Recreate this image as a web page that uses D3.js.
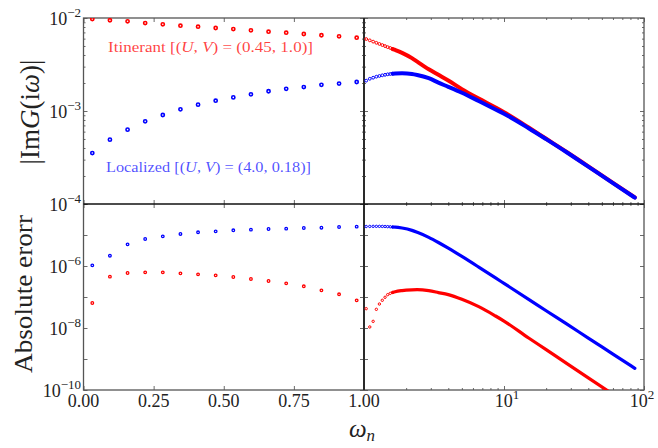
<!DOCTYPE html>
<html>
<head>
<meta charset="utf-8">
<script src="https://cdn.jsdelivr.net/npm/d3@7"></script>
<style>
  body { margin: 0; background: #fff; }
  text { font-family: "Liberation Serif", "DejaVu Serif", serif; fill: #222; }
</style>
</head>
<body>
<div id="chart"></div>
<script>
// Matsubara frequencies shown as separate markers (beta = 100)
const wLeft = [0.0314, 0.0942, 0.1571, 0.2199, 0.2827, 0.3456, 0.4084, 0.4712, 0.5341, 0.5969, 0.6597, 0.7226, 0.7854, 0.8482, 0.9111, 0.9739];
const wStart = [1.0367, 1.0996, 1.1624, 1.2252, 1.2881, 1.3509, 1.4137, 1.4765, 1.5394, 1.6022];
const wTail = [1.67, 1.87, 2.2, 2.4, 2.9, 3.4, 4.0, 5.0, 6.6, 8.7, 10, 15, 20, 28, 40, 60, 86];

// |Im G(iw)|, itinerant (red)
const itinG_left = [9.75e-3, 9.45e-3, 9.21e-3, 8.83e-3, 8.56e-3, 8.26e-3, 8.06e-3, 7.81e-3, 7.61e-3, 7.37e-3, 7.12e-3, 6.95e-3, 6.73e-3, 6.52e-3, 6.35e-3, 6.14e-3];
const itinG_start = [5.94e-3, 5.75e-3, 5.57e-3, 5.41e-3, 5.26e-3, 5.12e-3, 4.99e-3, 4.86e-3, 4.76e-3, 4.64e-3];
const itinG_tail = [4.53e-3, 4.22e-3, 3.70e-3, 3.39e-3, 2.81e-3, 2.45e-3, 2.13e-3, 1.72e-3, 1.36e-3, 1.09e-3, 9.7e-4, 6.65e-4, 5.03e-4, 3.63e-4, 2.54e-4, 1.69e-4, 1.18e-4];

// |Im G(iw)|, localized (blue)
const locG_left = [3.53e-4, 4.92e-4, 6.30e-4, 7.74e-4, 9.06e-4, 1.042e-3, 1.17e-3, 1.29e-3, 1.40e-3, 1.51e-3, 1.63e-3, 1.73e-3, 1.81e-3, 1.91e-3, 1.97e-3, 2.05e-3];
const locG_start = [2.12e-3, 2.22e-3, 2.28e-3, 2.34e-3, 2.38e-3, 2.42e-3, 2.45e-3, 2.48e-3, 2.50e-3, 2.52e-3];
const locG_tail = [2.53e-3, 2.54e-3, 2.50e-3, 2.44e-3, 2.25e-3, 2.02e-3, 1.82e-3, 1.57e-3, 1.28e-3, 1.04e-3, 9.35e-4, 6.53e-4, 4.98e-4, 3.6e-4, 2.52e-4, 1.68e-4, 1.17e-4];

// absolute error, itinerant (red)
const itinErr_left = [6.4e-8, 4.53e-7, 5.94e-7, 6.25e-7, 6.25e-7, 5.79e-7, 5.38e-7, 5.0e-7, 4.41e-7, 3.81e-7, 3.28e-7, 2.76e-7, 2.21e-7, 1.64e-7, 1.22e-7, 7.8e-8];
const itinErr_start = [4.2e-8, 1.08e-8, 1.64e-8, 4.0e-8, 5.94e-8, 7.83e-8, 9.8e-8, 1.19e-7, 1.31e-7, 1.40e-7];
const itinErr_tail = [1.48e-7, 1.61e-7, 1.70e-7, 1.72e-7, 1.60e-7, 1.39e-7, 1.19e-7, 8.4e-8, 4.87e-8, 2.44e-8, 1.68e-8, 4.76e-9, 2.0e-9, 7.2e-10, 2.46e-10, 7.3e-11, 2.5e-11];

// absolute error, localized (blue)
const locErr_left = [1.05e-6, 2.15e-6, 5.0e-6, 7.43e-6, 9.05e-6, 1.08e-5, 1.22e-5, 1.31e-5, 1.42e-5, 1.49e-5, 1.56e-5, 1.60e-5, 1.68e-5, 1.72e-5, 1.81e-5, 1.86e-5];
const locErr_start = [1.88e-5, 1.89e-5, 1.90e-5, 1.90e-5, 1.90e-5, 1.89e-5, 1.88e-5, 1.86e-5, 1.84e-5, 1.81e-5];
const locErr_tail = [1.8e-5, 1.68e-5, 1.41e-5, 1.22e-5, 8.4e-6, 5.73e-6, 3.75e-6, 2.03e-6, 9.2e-7, 4.13e-7, 2.75e-7, 8.4e-8, 3.6e-8, 1.35e-8, 4.73e-9, 1.44e-9, 5.0e-10];

const xTicksLeft = [0, 0.25, 0.5, 0.75, 1.0];
const yTicksTop = [-2, -3, -4];
const yTicksBot = [-6, -8, -10];

const width = 658, height = 448;
const L = 83.5, M = 364, R = 644, T = 18, C = 204, B = 390;

const xLeft = d3.scaleLinear().domain([0, 1]).range([L, M]);
const xRight = d3.scaleLog().domain([1, 100]).range([M, R]);
const yTop = d3.scaleLog().domain([1e-4, 1e-2]).range([C, T]);
const yBot = d3.scaleLog().domain([1e-10, 1e-4]).range([B, C]);

const svg = d3.select('#chart').append('svg')
    .attr('width', width)
    .attr('height', height);

const defs = svg.append('defs');
function clip(id, x0, y0, x1, y1) {
    defs.append('clipPath').attr('id', id)
        .append('rect').attr('x', x0).attr('y', y0).attr('width', x1 - x0).attr('height', y1 - y0);
}
clip('cTL', L, T, M, C); clip('cTR', M, T, R, C);
clip('cBL', L, C, M, B); clip('cBR', M, C, R, B);

// inward ticks on all four sides of a panel
function ticks(x, y, x0, x1, y0, y1, xMaj, xMin, yMaj, yMin) {
    const g = svg.append('g').attr('class', 'ticks');
    const put = (axis, tr) => g.append('g').attr('transform', tr).call(axis)
        .call(s => s.select('.domain').remove())
        .call(s => s.selectAll('line').attr('stroke', '#444').attr('stroke-width', 0.8));
    [[xMaj, -4], [xMin, -2]].forEach(([v, s]) => {
        put(d3.axisBottom(x).tickValues(v).tickSize(s).tickFormat(''), `translate(0,${y1})`);
        put(d3.axisTop(x).tickValues(v).tickSize(s).tickFormat(''), `translate(0,${y0})`);
    });
    [[yMaj, -4], [yMin, -2]].forEach(([v, s]) => {
        put(d3.axisLeft(y).tickValues(v).tickSize(s).tickFormat(''), `translate(${x0},0)`);
        put(d3.axisRight(y).tickValues(v).tickSize(s).tickFormat(''), `translate(${x1},0)`);
    });
}
const minors = (lo, hi) => d3.range(lo, hi).flatMap(e => d3.range(2, 10).map(m => m * Math.pow(10, e)));
const decades = (lo, hi) => d3.range(lo, hi + 1).map(e => Math.pow(10, e));

ticks(xLeft, yTop, L, M, T, C, xTicksLeft, [], decades(-4, -2), minors(-4, -2));
ticks(xRight, yTop, M, R, T, C, decades(0, 2), minors(0, 2), decades(-4, -2), minors(-4, -2));
ticks(xLeft, yBot, L, M, C, B, xTicksLeft, [], decades(-10, -4), []);
ticks(xRight, yBot, M, R, C, B, decades(0, 2), minors(0, 2), decades(-10, -4), []);

// panels frame
svg.append('rect').attr('x', L).attr('y', T).attr('width', R - L).attr('height', B - T)
    .attr('fill', 'none').attr('stroke', '#555').attr('stroke-width', 1.3);
svg.append('line').attr('x1', M).attr('x2', M).attr('y1', T).attr('y2', B)
    .attr('stroke', '#2a2a2a').attr('stroke-width', 2);
svg.append('line').attr('x1', L).attr('x2', R).attr('y1', C).attr('y2', C)
    .attr('stroke', '#111').attr('stroke-width', 1.5);

// data
function points(clipId, x, y, xs, ys, color, r, sw) {
    svg.append('g').attr('clip-path', `url(#${clipId})`)
        .selectAll('circle')
        .data(xs.map((w, i) => [w, ys[i]]))
        .enter().append('circle')
        .attr('cx', d => x(d[0]))
        .attr('cy', d => y(d[1]))
        .attr('r', r)
        .attr('fill', 'none')
        .attr('stroke', color)
        .attr('stroke-width', sw);
}
function band(clipId, x, y, xs, ys, color, w) {
    const line = d3.line().x(d => x(d[0])).y(d => y(d[1])).curve(d3.curveMonotoneX);
    svg.append('path').attr('clip-path', `url(#${clipId})`)
        .attr('d', line(xs.map((v, i) => [v, ys[i]])))
        .attr('fill', 'none')
        .attr('stroke', color)
        .attr('stroke-width', w)
        .attr('stroke-linecap', 'round');
}

const red = '#ff0000', blue = '#0000ff';

points('cTL', xLeft, yTop, wLeft, itinG_left, red, 1.6, 1.6);
points('cTL', xLeft, yTop, wLeft, locG_left, blue, 1.6, 1.6);
points('cBL', xLeft, yBot, wLeft, itinErr_left, red, 1.3, 1.3);
points('cBL', xLeft, yBot, wLeft, locErr_left, blue, 1.3, 1.3);

const wBand = [wStart[wStart.length - 1]].concat(wTail);
band('cTR', xRight, yTop, wBand, [itinG_start[9]].concat(itinG_tail), red, 4.0);
points('cTR', xRight, yTop, wStart, itinG_start, red, 1.4, 1.0);
band('cTR', xRight, yTop, wBand, [locG_start[9]].concat(locG_tail), blue, 4.0);
points('cTR', xRight, yTop, wStart, locG_start, blue, 1.4, 1.0);

band('cBR', xRight, yBot, wBand, [itinErr_start[9]].concat(itinErr_tail), red, 3.2);
points('cBR', xRight, yBot, wStart, itinErr_start, red, 1.2, 1.0);
band('cBR', xRight, yBot, wBand, [locErr_start[9]].concat(locErr_tail), blue, 3.2);
points('cBR', xRight, yBot, wStart, locErr_start, blue, 1.2, 1.0);

// tick labels
function power(sel, base, exp) {
    sel.append('tspan').text(base);
    sel.append('tspan').attr('dy', -8).attr('font-size', 13).text(exp < 0 ? '\u2212' + (-exp) : exp);
}
yTicksTop.forEach(e => {
    const t = svg.append('text').attr('x', 81).attr('y', yTop(Math.pow(10, e)) + 7)
        .attr('text-anchor', 'end').attr('font-size', 18);
    power(t, '10', e);
});
yTicksBot.forEach(e => {
    const t = svg.append('text').attr('x', 81).attr('y', yBot(Math.pow(10, e)) + 7)
        .attr('text-anchor', 'end').attr('font-size', 18);
    power(t, '10', e);
});
xTicksLeft.forEach(v => {
    svg.append('text').attr('x', xLeft(v)).attr('y', 407)
        .attr('text-anchor', 'middle').attr('font-size', 18)
        .text(v.toFixed(2));
});
[1, 2].forEach(e => {
    const t = svg.append('text').attr('x', xRight(Math.pow(10, e)) + (e === 2 ? -2 : 3)).attr('y', 407)
        .attr('text-anchor', 'middle').attr('font-size', 18);
    power(t, '10', e);
});

// axis titles
const yl = svg.append('text')
    .attr('transform', `translate(39,112) rotate(-90)`)
    .attr('text-anchor', 'middle').attr('font-size', 27);
yl.append('tspan').text('|Im');
yl.append('tspan').attr('font-style', 'italic').text('G');
yl.append('tspan').text('(i');
yl.append('tspan').attr('font-style', 'italic').text('\u03c9');
yl.append('tspan').text(')|');

svg.append('text')
    .attr('transform', `translate(32,294) rotate(-90)`)
    .attr('text-anchor', 'middle').attr('font-size', 26)
    .attr('textLength', 158).attr('lengthAdjust', 'spacingAndGlyphs')
    .text('Absolute erorr');

const xl = svg.append('text').attr('x', 362).attr('y', 437)
    .attr('text-anchor', 'middle').attr('font-size', 25);
xl.append('tspan').attr('font-style', 'italic').text('\u03c9');
xl.append('tspan').attr('font-style', 'italic').attr('font-size', 17).attr('dy', 4).text('n');

// annotations
function note(x, y, color, label, vals) {
    const t = svg.append('text').attr('x', x).attr('y', y).attr('font-size', 15.5)
        .attr('textLength', 205).attr('lengthAdjust', 'spacingAndGlyphs')
        .style('fill', color);
    t.append('tspan').text(label + ' [(');
    t.append('tspan').attr('font-style', 'italic').text('U');
    t.append('tspan').text(', ');
    t.append('tspan').attr('font-style', 'italic').text('V');
    t.append('tspan').text(') = (' + vals + ')]');
}
note(108, 52, 'rgba(255,0,0,0.75)', 'Itinerant', '0.45, 1.0');
note(106, 172, 'rgba(0,0,255,0.7)', 'Localized', '4.0, 0.18');
</script>
</body>
</html>
